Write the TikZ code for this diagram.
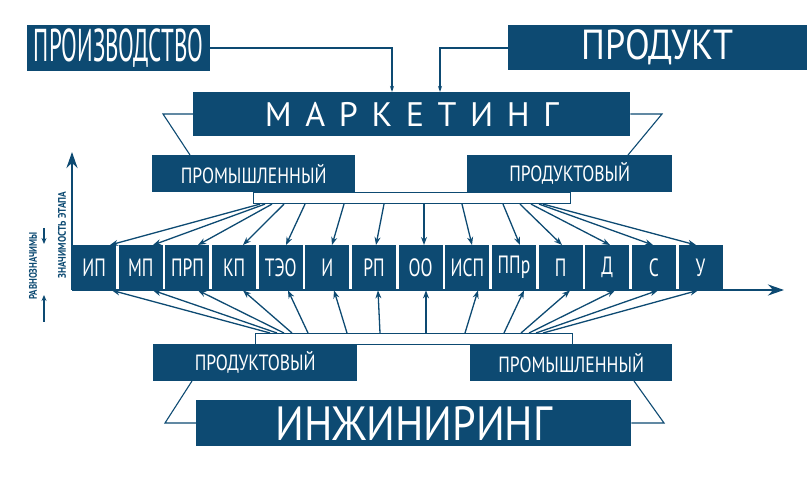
\documentclass[tikz,border=0pt]{standalone}
\usepackage{fontspec}
\setmainfont{PT Sans}
\newfontfamily\spaced[LetterSpace=40]{PT Sans}
\usetikzlibrary{arrows.meta}
\definecolor{db}{HTML}{0D4A72}
\newcommand{\nar}[2][0.66]{\scalebox{#1}[1]{#2}}
\begin{document}
\begin{tikzpicture}[x=1pt,y=-1pt,
  blk/.style={fill=db,draw=none,text=white,inner sep=0pt,anchor=north west},
  thin/.style={draw=db,line width=1.1pt},
  arr/.style={draw=db,line width=1.3pt,-{Stealth[length=8pt,width=6pt]}},
  axis/.style={draw=db,line width=2.6pt,-{Stealth[length=16pt,width=11pt]}}]
\useasboundingbox (0,0) rectangle (807,481);
% top
\node[blk,minimum width=183,minimum height=46] (prz) at (27,25) {\fontsize{46}{46}\selectfont\nar[0.5]{ПРОИЗВОДСТВО}};
\node[blk,minimum width=299,minimum height=45] (prd) at (508,25) {\fontsize{42}{42}\selectfont\nar[0.86]{ПРОДУКТ}};
\node[blk,minimum width=437,minimum height=44] (mkt) at (193,92) {\fontsize{34}{34}\selectfont\spaced МАРКЕТИНГ};
\draw[thin,-{Stealth[length=6pt,width=4pt]}] (prz.east |- 0,48) -| (392,92);
\draw[thin,-{Stealth[length=6pt,width=4pt]}] (prd.west |- 0,48) -| (440,92);
\node[blk,minimum width=203,minimum height=37] (tpm) at (152,155) {\fontsize{22}{22}\selectfont\nar[0.8]{ПРОМЫШЛЕННЫЙ}};
\node[blk,minimum width=205,minimum height=37] (tpd) at (467,155) {\fontsize{22}{22}\selectfont\nar[0.8]{ПРОДУКТОВЫЙ}};
\draw[thin] (mkt.west |- 0,114) -- (163,114) -- (190,155);
\draw[thin] (mkt.east |- 0,114) -- (662,114) -- (628,155);
\node[draw=db,line width=1.1pt,fill=white,minimum width=317,minimum height=11,inner sep=0pt,anchor=north west] (hubT) at (253,192) {};
% bottom
\node[blk,minimum width=204,minimum height=37] (bpd) at (153,344) {\fontsize{22}{22}\selectfont\nar[0.8]{ПРОДУКТОВЫЙ}};
\node[blk,minimum width=202,minimum height=37] (bpm) at (470,344) {\fontsize{22}{22}\selectfont\nar[0.8]{ПРОМЫШЛЕННЫЙ}};
\node[blk,minimum width=435,minimum height=46] (eng) at (196,400) {\fontsize{48}{48}\selectfont\nar[0.88]{ИНЖИНИРИНГ}};
\draw[thin] (eng.west |- 0,423) -- (165,423) -- (192,381);
\draw[thin] (eng.east |- 0,423) -- (664,423) -- (634,381);
\node[draw=db,line width=1.1pt,fill=white,minimum width=317,minimum height=11,inner sep=0pt,anchor=north west] (hubB) at (255,333) {};
% axes
\coordinate (O) at (72,290);
\coordinate (Ytop) at (72,152);
\coordinate (Xend) at (784,290);
\draw[axis] (O) -- (Ytop);
\draw[axis] (O) -- (Xend);
% stage boxes
\foreach \t [count=\i from 0] in {ИП,МП,ПРП,КП,ТЭО,И,РП,ОО,ИСП,ППр,П,Д,С,У}{
  \node[blk,minimum width=44,minimum height=45] (s\i) at ({72+46.64*\i},245) {\fontsize{25}{25}\selectfont\nar[0.7]{\t}};
}
% top arrows
\foreach \a/\b [count=\i from 0] in {260/110,265/153,272/198,284/243,305/286,344/332,384/376,424/424,462/472,503/520,520/562,531/610,539/653,543/696}{
  \draw[arr] ([xshift=\a-253]hubT.south west) -- ([xshift=\b-72-46.64*\i]s\i.north west);
}
% bottom arrows
\foreach \a/\b [count=\i from 0] in {270/112,277/153,284/198,292/243,308/288,347/334,380/378,426/426,465/478,504/524,521/570,529/615,536/658,543/698}{
  \draw[arr] ([xshift=\a-255]hubB.north west) -- ([xshift=\b-72-46.64*\i]s\i.south west);
}
% axis labels
\node[rotate=90,text=db,font=\bfseries\fontsize{11}{11}\selectfont,inner sep=0pt] (zn) at (62,235) {\nar[0.85]{ЗНАЧИМОСТЬ ЭТАПА}};
\node[rotate=90,text=db,font=\bfseries\fontsize{11}{11}\selectfont,inner sep=0pt] (rv) at (33,266) {\nar[0.8]{РАВНОЗНАЧИМЫ}};
\coordinate (u1) at (44,228); \coordinate (u2) at (44,244);
\coordinate (l1) at (44,322); \coordinate (l2) at (44,295);
\draw[db,line width=1.2pt,-{Stealth[length=6pt,width=5pt]}] (u1) -- (u2);
\draw[db,line width=1.2pt,-{Stealth[length=6pt,width=5pt]}] (l1) -- (l2);
\end{tikzpicture}
\end{document}
